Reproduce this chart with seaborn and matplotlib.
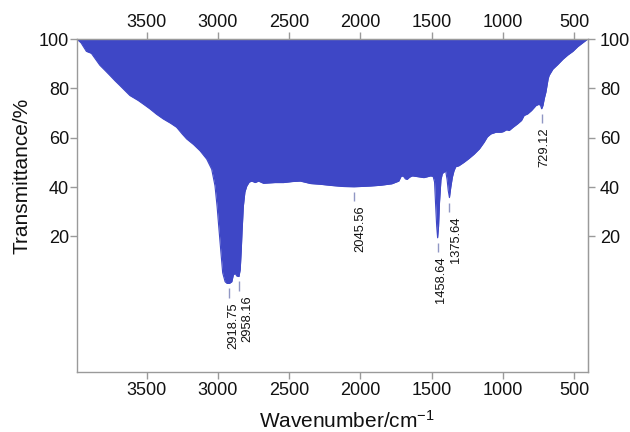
import matplotlib
matplotlib.use("Agg")
import matplotlib.pyplot as plt
import seaborn as sns
import pandas as pd

# FTIR spectrum: wavenumber (cm^-1) and transmittance (%)
wavenumber = [
    3990, 3960, 3922, 3887, 3860, 3828, 3790, 3758, 3720, 3688, 3650, 3617,
    3559, 3520, 3477, 3430, 3383, 3330, 3289, 3250, 3219, 3170, 3125, 3078,
    3043, 3020, 3005, 2996, 2980, 2966, 2949, 2935, 2919, 2902, 2891, 2879,
    2867, 2852, 2843, 2836, 2830, 2821, 2810, 2797, 2780, 2762, 2738, 2715,
    2680, 2600, 2539, 2480, 2422, 2350, 2281, 2200, 2120, 2045.56, 2000, 1930,
    1859, 1780, 1731, 1715, 1700, 1685, 1672, 1655, 1636, 1600, 1555, 1508,
    1490, 1480, 1472, 1465, 1458.64, 1452, 1445, 1435, 1425, 1402, 1392, 1384,
    1375.64, 1366, 1355, 1344, 1332, 1310, 1274, 1240, 1203, 1165, 1133, 1110,
    1086, 1050, 1015, 1000, 975, 957, 930, 898, 870, 852, 828, 800,
    769, 746, 735, 729.12, 720, 710, 699, 683, 676, 650, 617, 580,
    546, 510, 476, 440, 406,
]
transmittance = [
    100.0, 98.5, 95.0, 94.2, 92.0, 89.4, 87.2, 85.3, 83.0, 81.2, 79.0, 77.1,
    75.1, 73.5, 71.7, 69.5, 67.6, 65.8, 64.2, 61.5, 59.5, 57.2, 54.7, 51.3,
    47.2, 40.5, 32.0, 25.6, 14.6, 5.2, 1.6, 0.9, 0.9, 1.6, 4.4, 5.0,
    3.9, 3.7, 6.5, 14.0, 22.0, 32.2, 38.0, 40.4, 42.0, 42.4, 41.8, 42.4,
    41.5, 41.8, 41.8, 42.2, 42.4, 41.4, 41.1, 40.6, 40.2, 40.1, 40.2, 40.4,
    40.7, 41.3, 42.4, 44.3, 44.5, 43.3, 43.1, 44.0, 44.5, 44.2, 43.8, 44.5,
    44.3, 42.0, 32.0, 24.0, 19.4, 24.0, 34.0, 43.0, 45.5, 46.5, 43.0, 38.5,
    35.7, 40.0, 44.0, 46.5, 48.2, 48.6, 50.0, 51.5, 53.3, 55.5, 58.1, 60.3,
    61.5, 62.2, 62.2, 62.4, 63.2, 62.9, 64.2, 65.6, 67.0, 69.0, 69.6, 71.0,
    73.0, 73.6, 72.8, 71.7, 73.0, 76.0, 78.5, 84.0, 85.3, 87.8, 89.6, 91.8,
    93.5, 95.0, 96.9, 98.5, 100.0,
]

# Annotated bands: where each label sits, the band minimum, and its text
peak_wn = [2919, 2852, 2045.56, 1458.64, 1375.64, 729.12]
peak_t = [0.9, 3.7, 40.1, 19.4, 35.7, 71.7]
peak_text = ["2918.75", "2958.16", "2045.56", "1458.64", "1375.64", "729.12"]
# horizontal nudge (pixels) of each rotated label from its marker
label_shift = [4, 8, 6, 3, 7, 3]

x_ticks = [3500, 3000, 2500, 2000, 1500, 1000, 500]
y_ticks = [20, 40, 60, 80, 100]

sns.set_style("ticks")
plt.rcParams["font.family"] = ["Liberation Sans", "DejaVu Sans"]
plt.rcParams["mathtext.fontset"] = "custom"
plt.rcParams["mathtext.rm"] = "Liberation Sans"
plt.rcParams["mathtext.it"] = "Liberation Sans:italic"
plt.rcParams["mathtext.bf"] = "Liberation Sans:bold"

fill_color = "#3E47C6"
axis_gray = "#9A9A9A"
mark_color = "#9097C4"
text_color = "#111111"

df = pd.DataFrame({"wavenumber": wavenumber, "transmittance": transmittance})

fig = plt.figure(figsize=(6.3, 4.32), dpi=100)
ax = fig.add_axes([0.1217, 0.1389, 0.8116, 0.7708])

ax.fill_between(df["wavenumber"], df["transmittance"], 100,
                color=fill_color, linewidth=0)
sns.lineplot(data=df, x="wavenumber", y="transmittance", ax=ax,
             color=fill_color, linewidth=0.8, estimator=None)

# Band markers: short tick below each minimum and the rotated wavenumber
for wn, t, label, dx in zip(peak_wn, peak_t, peak_text, label_shift):
    ax.vlines(wn, t - 5.7, t - 2.0, color=mark_color, linewidth=1.0)
    ax.annotate(label, xy=(wn, t - 7.6), xytext=(dx, 0),
                textcoords="offset pixels", rotation=90,
                ha="center", va="top", fontsize=9.3, color=text_color)

ax.set_xlim(3990, 404)
ax.set_ylim(-35, 100)
ax.set_xticks(x_ticks)
ax.set_yticks(y_ticks)

for side in ["left", "right", "top", "bottom"]:
    ax.spines[side].set_visible(True)
    ax.spines[side].set_color(axis_gray)
    ax.spines[side].set_linewidth(1.0)

tick_style = dict(direction="out", length=5, width=1.0, color=axis_gray,
                  labelsize=13, labelcolor=text_color)
ax.tick_params(axis="x", pad=2, **tick_style)
ax.tick_params(axis="y", pad=0.5, **tick_style)

# Mirrored scales on the top and right edges
top = ax.secondary_xaxis("top")
top.set_xticks(x_ticks)
top.tick_params(axis="x", pad=0.5, **tick_style)
top.spines["top"].set_color(axis_gray)

right = ax.secondary_yaxis("right")
right.set_yticks(y_ticks)
right.tick_params(axis="y", pad=3.5, **tick_style)
right.spines["right"].set_color(axis_gray)

ax.set_xlabel("Wavenumber/cm$^{-1}$", fontsize=15, color=text_color)
ax.set_ylabel("Transmittance/%", fontsize=15, color=text_color)
ax.xaxis.set_label_coords(0.529, -0.114)
ax.yaxis.set_label_coords(-0.088, 0.589)

fig.savefig("out.png", dpi=100)
